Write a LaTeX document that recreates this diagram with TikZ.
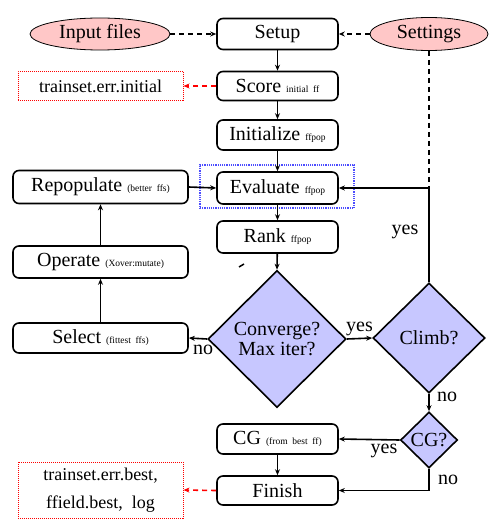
\documentclass[tikz,border=0pt]{standalone}
\usepackage{fontspec}
\setmainfont{Liberation Serif}
\usetikzlibrary{shapes.geometric,arrows.meta}
\newcommand{\smtxt}[1]{{\fontsize{9.5}{11}\selectfont #1}}
\begin{document}
\begin{tikzpicture}[x=1pt,y=-1pt,
  every node/.style={font=\fontsize{20}{22}\selectfont},
  stepbox/.style={draw,rounded corners=6pt,line width=1.6pt,minimum width=121pt,minimum height=31pt,inner sep=0pt,fill=white},
  sidebox/.style={stepbox,minimum width=175pt},
  inellipse/.style={ellipse,draw,line width=0.8pt,fill=red!22,inner sep=0pt},
  decision/.style={diamond,draw,line width=1.6pt,fill=blue!22,inner sep=0pt,align=center},
  outbox/.style={draw=red,densely dotted,line width=1pt,minimum width=165pt,inner sep=0pt,align=center,font=\fontsize{18}{28}\selectfont},
  arr/.style={-{Stealth[length=6pt,width=5pt]},line width=1.6pt},
  darr/.style={-{Stealth[length=6pt,width=5pt]},line width=1.6pt,dash pattern=on 5pt off 4pt},
  rarr/.style={darr,red},
  lbl/.style={font=\fontsize{20}{22}\selectfont,inner sep=1pt}]
\useasboundingbox (0,0) rectangle (495,532);
% blue dotted frame around Evaluate
\node[draw=blue!70,densely dotted,line width=1.2pt,minimum width=154pt,minimum height=43pt,inner sep=0pt] (evalframe) at (277,186.5) {};
% nodes
\node[inellipse,minimum width=140pt,minimum height=32pt] (inp) at (100,34) {Input files};
\node[inellipse,minimum width=118pt,minimum height=33pt] (set) at (429,34) {Settings};
\node[stepbox] (setup) at (277.5,34) {Setup};
\node[stepbox,minimum height=29pt] (score) at (277.5,86) {Score \smtxt{initial\ \ ff}};
\node[stepbox,minimum height=30pt] (init) at (277.5,135) {Initialize \smtxt{ffpop}};
\node[stepbox,minimum height=32pt] (eval) at (277.5,188) {Evaluate \smtxt{ffpop}};
\node[stepbox,minimum height=32pt] (rank) at (277.5,237) {Rank \smtxt{ffpop}};
\node[sidebox,minimum height=33pt] (repop) at (100.5,187) {Repopulate \smtxt{(better\ \ ffs)}};
\node[sidebox,minimum height=32pt] (oper) at (100.5,262) {Operate \smtxt{(Xover:mutate)}};
\node[sidebox,minimum height=30pt] (sel) at (100.5,338) {Select \smtxt{(fittest\ \ ffs)}};
\node[decision,minimum width=138pt,minimum height=137pt] (conv) at (277,339) {Converge?\\[-2pt]Max iter?};
\node[decision,minimum width=112pt,minimum height=110pt] (climb) at (429,338) {Climb?};
\node[decision,minimum width=57pt,minimum height=56pt] (cgq) at (429,440) {CG?};
\node[stepbox,minimum height=30pt] (cg) at (277.5,439) {CG \smtxt{(from\ \ best\ \ ff)}};
\node[stepbox,minimum height=29pt] (fin) at (277.5,490.5) {Finish};
\node[outbox,minimum height=29pt] (errinit) at (100.5,86) {trainset.err.initial};
\node[outbox,minimum height=56pt] (errbest) at (100.5,490) {trainset.err.best,\\ffield.best,\ \ log};
% connectors
\draw[darr] (inp.east) -- (setup.west);
\draw[darr] (set.west) -- (setup.east);
\draw[arr] (setup) -- (score);
\draw[arr] (score) -- (init);
\draw[arr] (init) -- (eval);
\draw[arr] (eval) -- (rank);
\draw[arr] (rank) -- (conv.north);
\draw[rarr] (score.west) -- (errinit.east);
\draw[arr] (repop.east) -- (eval.west);
\draw[arr] (oper.north) -- (repop.south);
\draw[arr] (sel.north) -- (oper.south);
\draw[arr] (conv.west) -- (sel.east);
\node[lbl] (nolbl1) at (203,350) {no};
\draw[arr] (conv.east) -- node[lbl,above=1pt] {yes} (climb.west);
\draw[arr] (climb.north) |- (eval.east);
\node[lbl] (yeslbl) at (405,232) {yes};
\draw[line width=1.6pt,dash pattern=on 5pt off 4pt] (set.south) -- ([yshift=-6pt]set.south |- eval.east);
\draw[arr] (climb.south) -- (cgq.north);
\node[lbl] (nolbl2) at (447,397) {no};
\draw[arr] (cgq.west) -- (cg.east);
\node[lbl] (yeslbl2) at (384,451) {yes};
\draw[arr] (cg) -- (fin);
\draw[arr] (cgq.south) |- (fin.east);
\node[lbl] (nolbl) at (448,480) {no};
\draw[rarr] (fin.west) -- (errbest.east);
% stray mark
\draw[line width=1.5pt] (239,267) -- (244,264);
\end{tikzpicture}
\end{document}
